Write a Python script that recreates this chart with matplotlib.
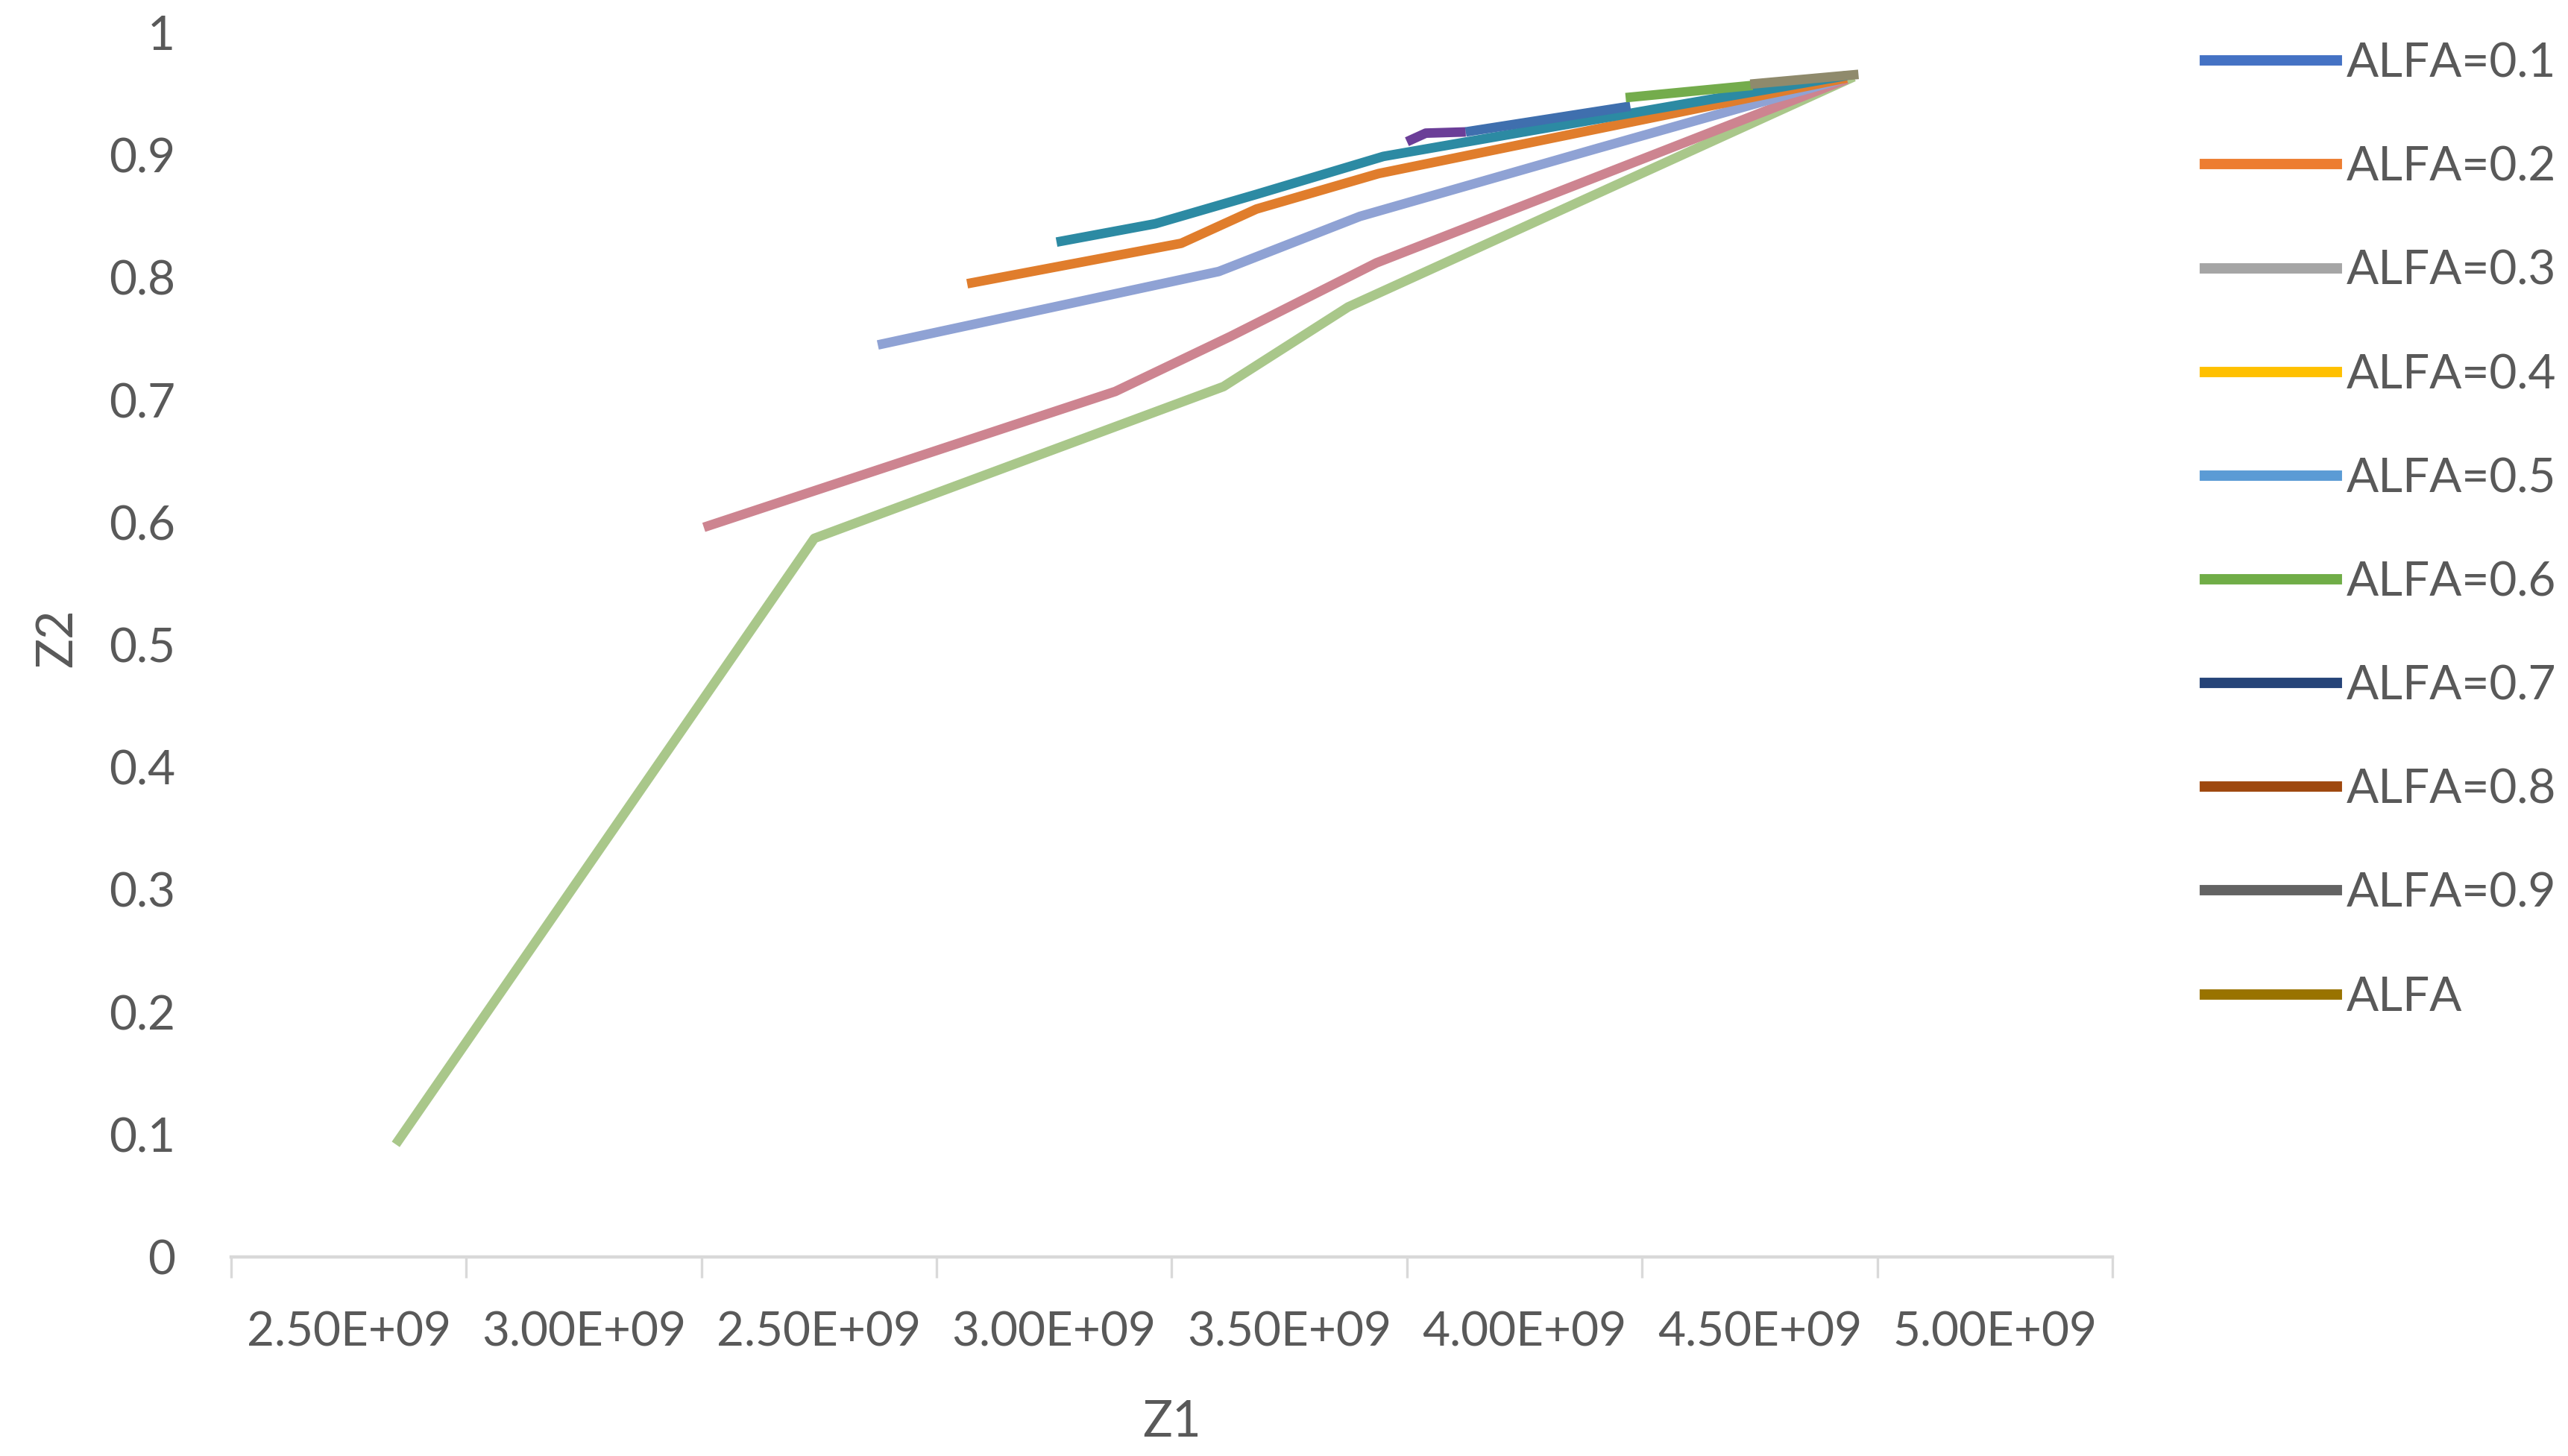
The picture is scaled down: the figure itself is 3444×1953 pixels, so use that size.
import matplotlib
matplotlib.use("Agg")
import matplotlib.pyplot as plt
from matplotlib.lines import Line2D

# positions along Z1 axis are in "tick units": tick 0 at left edge, tick 8 at right edge
tick_labels = ["2.50E+09", "3.00E+09", "2.50E+09", "3.00E+09",
               "3.50E+09", "4.00E+09", "4.50E+09", "5.00E+09"]
y_ticks = [0, 0.1, 0.2, 0.3, 0.4, 0.5, 0.6, 0.7, 0.8, 0.9, 1]

legend_labels = ["ALFA=0.1", "ALFA=0.2", "ALFA=0.3", "ALFA=0.4", "ALFA=0.5",
                 "ALFA=0.6", "ALFA=0.7", "ALFA=0.8", "ALFA=0.9", "ALFA"]
legend_colors = ["#4472C4", "#ED7D31", "#A5A5A5", "#FFC000", "#5B9BD5",
                 "#70AD47", "#264478", "#9E480E", "#636363", "#997300"]

# lines as they appear in the plot area
light_green_x = [0.70, 2.48, 4.22, 4.75, 6.90]
light_green_y = [0.092, 0.587, 0.711, 0.776, 0.964]
pink_x = [2.01, 3.76, 4.25, 4.87, 6.87]
pink_y = [0.596, 0.707, 0.752, 0.812, 0.962]
periwinkle_x = [2.75, 4.20, 4.80, 5.80, 6.85]
periwinkle_y = [0.745, 0.805, 0.850, 0.905, 0.962]
orange_x = [3.13, 4.04, 4.36, 4.88, 6.87]
orange_y = [0.795, 0.828, 0.856, 0.885, 0.963]
teal_x = [3.51, 3.93, 4.36, 4.90, 6.87]
teal_y = [0.829, 0.844, 0.868, 0.899, 0.965]
purple_x = [5.00, 5.08, 5.25]
purple_y = [0.911, 0.918, 0.919]
blue_x = [5.25, 5.95]
blue_y = [0.919, 0.940]
green_x = [5.93, 6.47]
green_y = [0.947, 0.957]
olive_x = [6.46, 6.92]
olive_y = [0.958, 0.966]

TEXT = "#595959"
FS = 23
plt.rcParams["font.family"] = ["Lato", "DejaVu Sans"]

fig = plt.figure(figsize=(17.22, 9.765), dpi=200)
ax = fig.add_axes([0.090, 0.1367, 0.7326, 0.8408])

lw = 4.6
series = [
    (light_green_x, light_green_y, "#A9C78A"),
    (pink_x, pink_y, "#CD8490"),
    (periwinkle_x, periwinkle_y, "#8FA2D4"),
    (orange_x, orange_y, "#E07D2C"),
    (teal_x, teal_y, "#2C8AA3"),
    (purple_x, purple_y, "#6B3E98"),
    (blue_x, blue_y, "#3F6FAE"),
    (green_x, green_y, "#74AC4C"),
    (olive_x, olive_y, "#8F8A6C"),
]
for xs, ys, c in series:
    ax.plot(xs, ys, color=c, lw=lw, solid_capstyle="butt", solid_joinstyle="round")

ax.set_xlim(0, 8)
ax.set_ylim(0, 1)

# category-style x axis: tick marks at boundaries, labels centred between
ax.set_xticks([i + 0.5 for i in range(8)])
ax.set_xticklabels(tick_labels)
ax.set_xticks(range(9), minor=True)
ax.tick_params(axis="x", which="major", length=0, pad=26, labelsize=FS, labelcolor=TEXT)
ax.tick_params(axis="x", which="minor", length=10, width=1.2, color="#D9D9D9", direction="out")

ax.set_yticks(y_ticks)
ax.set_yticklabels([f"{v:g}" for v in y_ticks])
ax.tick_params(axis="y", length=0, pad=27, labelsize=FS, labelcolor=TEXT)

for side in ["top", "right", "left"]:
    ax.spines[side].set_visible(False)
ax.spines["bottom"].set_color("#D9D9D9")
ax.spines["bottom"].set_linewidth(1.6)

ax.set_xlabel("Z1", fontsize=FS + 1, color=TEXT, labelpad=22)
fig.text(0.0224, 0.562, "Z2", rotation=90, fontsize=FS + 1, color=TEXT,
         ha="center", va="center")

handles = [Line2D([0], [0], color=c, lw=5) for c in legend_colors]
fig.legend(handles, legend_labels, loc="upper left", bbox_to_anchor=(0.8587, 0.971),
           frameon=False, fontsize=FS, labelcolor=TEXT, handlelength=2.77,
           handletextpad=0.19, labelspacing=1.27, borderpad=0, borderaxespad=0)

fig.savefig("out.png", dpi=200, facecolor="white")
